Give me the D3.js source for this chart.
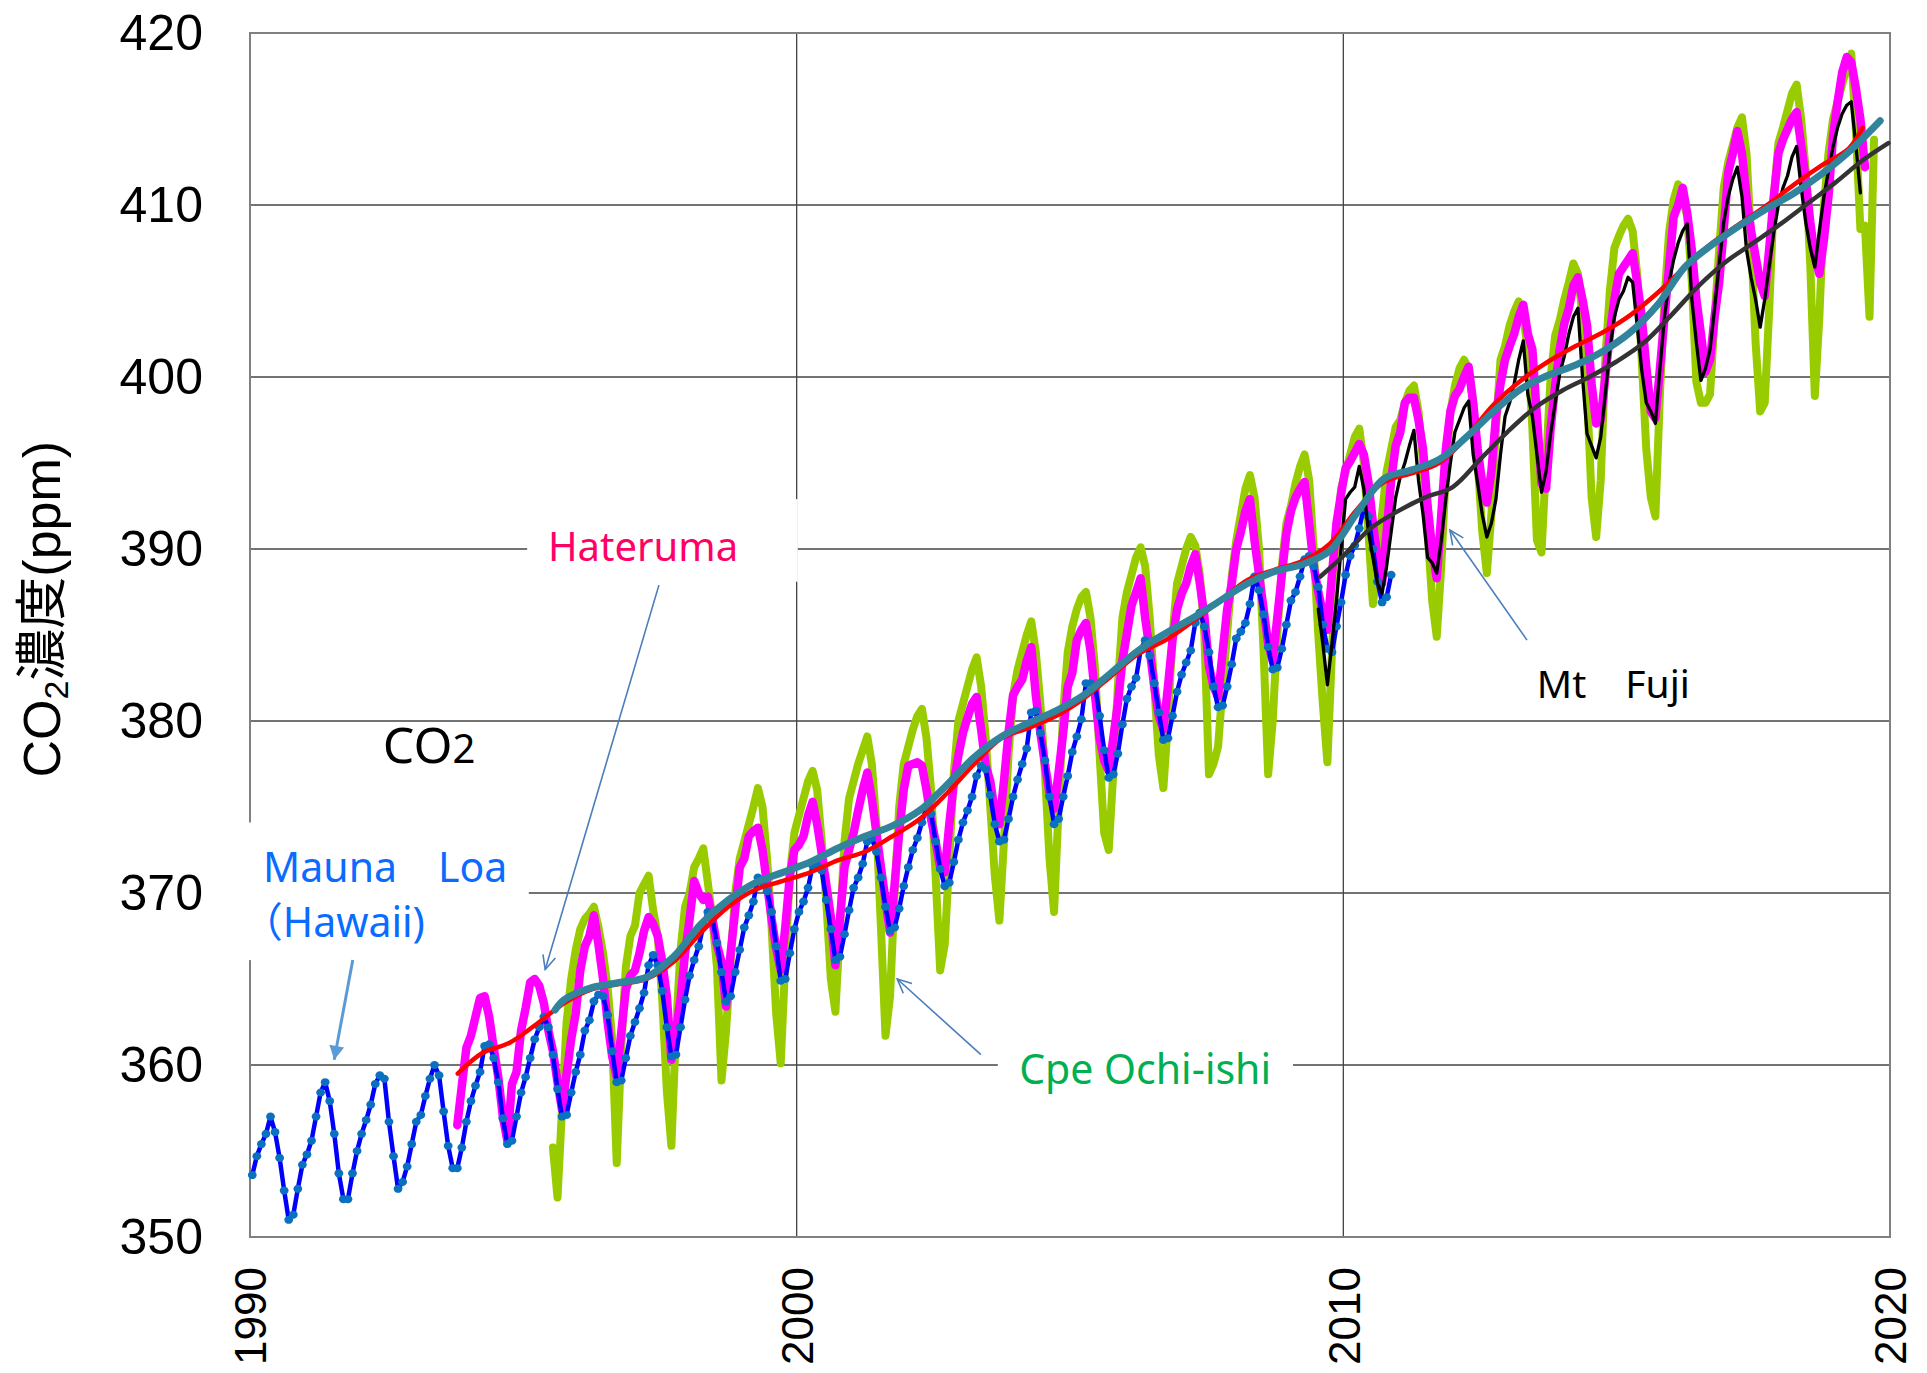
<!DOCTYPE html>
<html>
<head>
<meta charset="utf-8">
<script src="https://cdn.jsdelivr.net/npm/d3@7"></script>
<style>
  body { margin: 0; background: #fff; }
  svg { display: block; }
</style>
</head>
<body>
<div id="chart"></div>
<script>
// monthly CO2 (ppm), one row per year
var maunaLoaStart = 1990;          // Jan 1990
var maunaLoa = [
  353.6, 354.7, 355.4, 356.0, 357.0, 356.1, 354.6, 352.7, 351.0, 351.3, 352.8, 354.2,
  354.8, 355.6, 357.0, 358.4, 359.0, 357.9, 356.0, 353.7, 352.2, 352.2, 353.7, 355.0,
  356.0, 356.8, 357.7, 358.9, 359.4, 359.2, 356.7, 354.7, 352.8, 353.2, 354.1, 355.4,
  356.7, 357.1, 358.2, 359.2, 360.0, 359.4, 357.3, 355.3, 354.0, 354.0, 355.2, 356.7,
  357.9, 358.8, 359.6, 361.1, 361.2, 360.4, 359.0, 356.9, 355.4, 355.6, 357.0, 358.4,
  359.3, 360.4, 361.5, 362.2, 362.8, 362.2, 360.6, 358.6, 357.0, 357.1, 358.4, 359.6,
  360.6, 362.0, 362.6, 363.7, 364.1, 364.0, 362.9, 360.8, 359.0, 359.1, 360.4, 361.7,
  362.5, 363.3, 364.2, 365.8, 366.4, 365.8, 364.3, 362.2, 360.5, 360.6, 362.2, 363.8,
  365.2, 366.1, 366.9, 368.1, 368.9, 368.5, 367.1, 365.4, 363.7, 364.0, 365.4, 366.7,
  368.0, 368.7, 369.5, 370.9, 370.6, 370.1, 368.9, 366.9, 364.9, 365.0, 366.5, 367.9,
  368.9, 369.5, 370.3, 371.6, 371.6, 371.3, 369.6, 367.9, 366.1, 366.3, 367.6, 369.0,
  370.3, 370.9, 371.7, 373.0, 373.2, 372.4, 370.9, 369.2, 367.8, 368.0, 369.1, 370.4,
  371.5, 372.5, 373.2, 374.1, 375.0, 374.6, 373.0, 371.4, 370.4, 370.6, 371.8, 373.1,
  374.1, 374.8, 375.6, 376.8, 377.4, 377.2, 375.7, 374.0, 373.0, 373.1, 374.3, 375.6,
  376.6, 377.5, 378.4, 380.5, 380.6, 379.3, 377.7, 375.6, 374.0, 374.3, 375.6, 376.8,
  378.2, 379.1, 380.1, 382.2, 382.2, 382.1, 380.3, 378.3, 376.7, 376.9, 378.1, 379.8,
  381.3, 382.0, 382.5, 384.1, 384.7, 383.8, 382.2, 380.5, 378.9, 379.0, 380.3, 381.7,
  382.7, 383.4, 384.1, 385.7, 386.3, 385.5, 384.0, 382.0, 380.8, 380.9, 382.0, 383.3,
  384.8, 385.2, 385.7, 386.8, 388.4, 387.6, 386.2, 384.3, 383.0, 383.1, 384.2, 385.6,
  387.0, 387.5, 388.4, 389.4, 389.6, 389.0, 387.8, 385.6, 384.2, 384.0, 385.5, 386.9,
  388.5, 389.6, 390.2, 391.2, 392.4, 391.9, 390.0, 388.1, 386.9, 387.2, 388.5
];

var haterumaStart = 1993 + 9 / 12;  // Oct 1993
var hateruma = [
  356.5, 358.8, 361.0,
  361.7, 362.8, 363.9, 364.0, 362.8, 361.0, 359.3, 357.0, 355.6, 358.9, 359.6, 362.0,
  363.3, 364.8, 365.0, 364.6, 363.6, 362.0, 360.8, 359.0, 357.4, 359.5, 361.5, 363.0,
  365.5, 366.9, 367.5, 368.7, 367.0, 365.0, 362.5, 360.5, 359.3, 361.9, 364.4, 365.2,
  365.5, 366.5, 367.8, 368.6, 368.2, 367.5, 366.0, 364.0, 360.3, 362.0, 363.8, 366.5,
  368.5, 370.7, 370.0, 369.6, 369.8, 368.5, 367.0, 366.0, 363.4, 366.5, 369.0, 371.5,
  372.0, 373.3, 373.6, 373.8, 372.5, 370.5, 368.5, 366.8, 365.5, 368.0, 371.0, 372.5,
  372.8, 373.3, 374.5, 375.3, 374.0, 372.3, 370.5, 368.6, 365.8, 368.5, 371.5, 372.5,
  373.5, 374.8, 376.0, 377.0, 375.5, 373.5, 371.5, 369.6, 367.7, 370.5, 373.5, 376.0,
  377.4, 377.5, 377.6, 377.4, 376.0, 374.3, 373.0, 371.5, 371.2, 374.0, 376.4, 378.0,
  379.3, 380.2, 381.0, 381.4, 379.5, 377.4, 376.5, 374.7, 374.0, 376.5, 379.3, 381.5,
  382.0, 382.4, 383.5, 384.3, 381.5, 379.3, 377.5, 375.8, 374.9, 377.0, 379.3, 382.0,
  382.8, 384.7, 385.3, 385.7, 384.1, 381.5, 379.0, 377.7, 377.1, 379.0, 381.0, 383.5,
  385.1, 386.7, 387.5, 388.3, 386.0, 384.1, 382.0, 380.3, 379.5, 382.0, 384.7, 386.5,
  387.4, 388.0, 389.0, 389.7, 388.0, 386.1, 383.2, 382.0, 381.4, 384.0, 386.5, 388.0,
  390.0, 391.0, 392.2, 392.9, 390.5, 388.5, 386.5, 384.5, 383.5, 386.0, 388.5, 390.9,
  392.2, 393.0, 393.5, 393.9, 391.5, 389.0, 387.5, 386.3, 385.3, 388.5, 391.5, 393.2,
  394.7, 395.1, 395.6, 396.1, 395.5, 393.9, 391.5, 389.5, 388.0, 391.0, 394.0, 396.0,
  396.8, 398.5, 398.8, 398.8, 397.5, 395.8, 392.5, 390.0, 388.3, 392.0, 395.8, 398.0,
  398.9, 399.3, 400.0, 400.6, 398.5, 395.8, 393.8, 392.7, 394.5, 397.7, 399.6, 401.0,
  401.8, 402.5, 403.5, 404.2, 402.5, 401.6, 397.7, 393.8, 393.5, 397.0, 399.5, 401.6,
  403.1, 404.0, 405.3, 405.8, 404.5, 403.0, 399.6, 397.3, 397.5, 400.0, 402.5, 404.5,
  406.0, 406.4, 406.8, 407.2, 405.5, 403.5, 400.6, 398.0, 397.6, 400.5, 403.5, 406.4,
  409.3, 410.0, 411.0, 409.5, 407.4, 404.5, 402.5, 400.3, 401.0, 403.5, 405.5, 408.6,
  411.9, 413.0, 414.3, 413.0, 410.5, 408.5, 407.0, 405.5, 404.7, 407.5, 410.5, 413.0,
  413.8, 414.4, 415.0, 415.4, 413.5, 411.5, 409.0, 407.0, 406.0, 408.0, 410.5, 414.0,
  416.0, 417.7, 418.6, 418.3, 416.8, 415.0, 412.2
];

var ochiishiStart = 1995 + 6 / 12;  // Jul 1995
var ochiishi = [
  355.2, 352.3, 357.5, 362.5, 365.0, 366.7,
  367.9, 368.5, 368.8, 369.2, 368.0, 366.5, 364.5, 361.5, 354.3, 361.0, 365.7, 367.5,
  368.1, 370.0, 370.5, 371.0, 369.0, 367.5, 363.8, 358.5, 355.3, 362.0, 366.7, 369.2,
  370.0, 371.5, 372.0, 372.6, 370.6, 368.5, 365.7, 359.1, 362.0, 366.0, 370.0, 372.0,
  373.0, 374.0, 375.0, 376.1, 375.0, 372.0, 368.0, 363.0, 360.1, 366.0, 371.0, 373.5,
  374.5, 375.5, 376.5, 377.1, 376.0, 373.0, 369.5, 365.0, 363.1, 368.0, 373.0, 375.5,
  376.5, 377.5, 378.3, 379.1, 377.5, 374.0, 368.0, 361.7, 364.0, 370.0, 375.0, 377.5,
  378.5, 379.5, 380.3, 380.7, 379.0, 376.0, 371.0, 365.5, 367.0, 372.0, 377.0, 380.0,
  381.0, 382.0, 383.0, 383.7, 382.0, 379.0, 375.0, 371.0, 368.4, 373.0, 378.0, 381.5,
  383.0, 384.0, 385.0, 385.8, 384.0, 381.0, 377.0, 372.0, 368.9, 375.0, 380.5, 384.0,
  385.5, 386.5, 387.2, 387.5, 386.0, 383.0, 378.0, 373.5, 372.5, 377.0, 382.0, 386.0,
  387.5, 388.5, 389.5, 390.1, 389.0, 386.0, 382.0, 378.0, 376.1, 380.0, 385.0, 388.0,
  389.0, 390.0, 390.7, 390.2, 388.5, 385.0, 376.9, 377.5, 378.5, 382.0, 385.1, 388.4,
  390.5, 392.0, 393.5, 394.3, 393.0, 390.0, 384.0, 376.9, 380.0, 385.0, 389.0, 391.5,
  392.5, 393.8, 394.8, 395.5, 394.0, 390.0, 385.0, 381.0, 377.6, 384.0, 390.0, 393.5,
  394.5, 395.5, 396.5, 397.0, 395.0, 391.0, 386.8, 389.0, 392.0, 394.5, 395.8, 397.1,
  397.5, 398.5, 399.2, 399.5, 398.0, 395.0, 391.0, 387.0, 384.9, 389.0, 394.5, 398.0,
  399.5, 400.5, 401.0, 400.5, 398.5, 395.0, 391.0, 388.6, 392.0, 397.0, 401.0, 401.8,
  403.0, 403.8, 404.4, 403.5, 401.6, 397.0, 390.5, 389.8, 395.0, 400.0, 402.4, 403.3,
  404.5, 405.5, 406.6, 406.0, 403.5, 399.0, 393.0, 390.7, 394.0, 401.0, 405.0, 407.5,
  408.2, 408.8, 409.2, 408.5, 406.0, 401.0, 395.8, 393.0, 391.9, 399.0, 404.5, 408.4,
  410.3, 411.2, 410.5, 409.3, 405.5, 399.7, 398.5, 398.5, 399.0, 403.5, 407.4, 411.0,
  412.5, 413.5, 414.5, 415.1, 413.0, 408.0, 402.0, 398.0, 398.5, 404.0, 410.5, 413.6,
  414.5, 415.5, 416.5, 417.0, 415.0, 412.0, 406.5, 398.9, 403.5, 410.0, 413.0, 415.0,
  416.0, 417.0, 418.0, 418.8, 414.4, 408.6, 408.8, 403.5, 413.8
];

var fujiStart = 2009 + 6 / 12;      // Jul 2009
var fuji = [
  386.5, 384.5, 382.1, 384.5, 387.0, 390.0,
  392.9, 393.3, 393.6, 394.8, 393.5, 391.0, 389.5, 388.0, 387.4, 389.0, 391.0, 393.0,
  394.2, 395.0, 396.0, 396.9, 394.0, 392.0, 389.5, 389.2, 388.6, 390.5, 392.9, 395.0,
  396.8, 397.5, 398.2, 398.6, 395.5, 393.8, 392.0, 390.7, 391.5, 392.9, 395.5, 397.7,
  398.5, 399.6, 401.0, 402.1, 399.0, 397.7, 395.5, 393.3, 394.5, 396.7, 398.5, 400.2,
  401.2, 402.5, 403.5, 404.0, 400.0, 396.7, 396.0, 395.3, 396.5, 399.0, 401.6, 403.5,
  404.5, 405.0, 405.8, 405.5, 403.0, 400.4, 398.5, 398.0, 397.3, 400.5, 403.5, 405.5,
  406.8, 407.8, 408.5, 408.9, 404.5, 402.0, 399.8, 400.5, 401.6, 404.0, 406.5, 409.0,
  410.5, 411.5, 412.2, 410.5, 407.4, 405.8, 404.5, 402.9, 404.5, 406.5, 408.4, 410.0,
  411.0, 411.7, 412.8, 413.4, 411.0, 409.0, 407.5, 406.4, 408.5, 410.5, 412.0, 413.4,
  414.5, 415.3, 415.8, 416.0, 413.5, 410.7
];

// smoothed trend curves [year, ppm]
var haterumaTrend = [
  [1993.8, 359.5], [1994.25, 360.7], [1994.75, 361.3], [1995.25, 362.4], [1995.75, 363.6],
  [1996.25, 364.4], [1996.75, 364.7], [1997.25, 365.0], [1997.75, 366.0], [1998.25, 367.7],
  [1998.75, 369.2], [1999.25, 370.2], [1999.75, 370.7], [2000.25, 371.2], [2000.75, 371.9],
  [2001.25, 372.4], [2001.75, 373.3], [2002.25, 374.3], [2002.75, 375.8], [2003.25, 377.5],
  [2003.75, 379.0], [2004.25, 379.6], [2004.75, 380.3], [2005.25, 381.3], [2005.75, 382.6],
  [2006.25, 383.9], [2006.75, 384.7], [2007.25, 385.8], [2007.75, 387.0], [2008.25, 388.2],
  [2008.75, 388.8], [2009.25, 389.3], [2009.75, 390.3], [2010.25, 392.3], [2010.75, 393.9],
  [2011.25, 394.4], [2011.75, 395.0], [2012.25, 396.5], [2012.75, 398.4], [2013.25, 399.8],
  [2013.75, 400.9], [2014.25, 401.8], [2014.75, 402.6], [2015.25, 403.6], [2015.75, 404.9],
  [2016.25, 406.4], [2016.75, 407.8], [2017.25, 408.9], [2017.75, 410.0], [2018.25, 411.2],
  [2018.75, 412.3], [2019.25, 413.3], [2019.5, 414.5]
];
var ochiishiTrend = [
  [1995.58, 363.2], [1995.75, 363.8], [1996.25, 364.5], [1996.75, 364.8], [1997.25, 365.1],
  [1997.75, 366.3], [1998.25, 368.2], [1998.75, 369.6], [1999.25, 370.6], [1999.75, 371.2],
  [2000.25, 371.8], [2000.75, 372.6], [2001.25, 373.3], [2001.75, 373.9], [2002.25, 374.8],
  [2002.75, 376.3], [2003.25, 377.9], [2003.75, 379.1], [2004.25, 379.9], [2004.75, 380.6],
  [2005.25, 381.5], [2005.75, 382.8], [2006.25, 384.1], [2006.75, 385.1], [2007.25, 386.0],
  [2007.75, 387.0], [2008.25, 388.0], [2008.75, 388.7], [2009.25, 389.1], [2009.75, 389.9],
  [2010.25, 392.1], [2010.75, 394.1], [2011.25, 394.6], [2011.75, 395.2], [2012.25, 396.5],
  [2012.75, 398.0], [2013.25, 399.3], [2013.75, 400.1], [2014.25, 400.7], [2014.75, 401.5],
  [2015.25, 402.6], [2015.75, 404.2], [2016.25, 406.4], [2016.75, 407.7], [2017.25, 408.8],
  [2017.75, 409.8], [2018.25, 410.7], [2018.75, 411.8], [2019.25, 413.1], [2019.82, 414.9]
];
var fujiTrend = [
  [2009.58, 388.4], [2010.0, 389.6], [2010.5, 391.2], [2011.0, 392.2], [2011.5, 393.0],
  [2012.0, 393.6], [2012.5, 395.2], [2013.0, 396.8], [2013.5, 398.2], [2014.0, 399.2],
  [2014.5, 400.0], [2015.0, 400.9], [2015.5, 402.0], [2016.0, 403.6], [2016.5, 405.3],
  [2017.0, 406.7], [2017.5, 407.8], [2018.0, 408.9], [2018.5, 410.1], [2019.0, 411.3],
  [2019.5, 412.6], [2019.97, 413.6]
];

var yearTicks = [1990, 2000, 2010, 2020];
var ppmTicks = [350, 360, 370, 380, 390, 400, 410, 420];

var width = 1927, height = 1373;
var margin = {top: 33, right: 37, bottom: 136, left: 250};

var x = d3.scaleLinear().domain([1990, 2020]).range([margin.left, width - margin.right]);
var y = d3.scaleLinear().domain([350, 420]).range([height - margin.bottom, margin.top]);

var svg = d3.select("#chart").append("svg")
    .attr("width", width)
    .attr("height", height);

function monthly(start, vals) {
    return vals.map(function(v, i) { return {t: start + (i + 0.5) / 12, v: v}; });
}
function pairs(arr) {
    return arr.map(function(d) { return {t: d[0], v: d[1]}; });
}

// grid
svg.append("g").selectAll("line")
    .data(ppmTicks.filter(function(d) { return d > 350 && d < 420; }))
    .enter().append("line")
    .attr("x1", x(1990)).attr("x2", x(2020))
    .attr("y1", function(d) { return y(d); }).attr("y2", function(d) { return y(d); })
    .attr("stroke", "#444").attr("stroke-width", 1.3);
svg.append("g").selectAll("line")
    .data(yearTicks.filter(function(d) { return d > 1990 && d < 2020; }))
    .enter().append("line")
    .attr("y1", y(350)).attr("y2", y(420))
    .attr("x1", function(d) { return x(d); }).attr("x2", function(d) { return x(d); })
    .attr("stroke", "#444").attr("stroke-width", 1.3);
svg.append("rect")
    .attr("x", x(1990)).attr("y", y(420))
    .attr("width", x(2020) - x(1990)).attr("height", y(350) - y(420))
    .attr("fill", "none").attr("stroke", "#808080").attr("stroke-width", 2);

// axis labels
var yAxis = svg.append("g")
    .attr("transform", "translate(" + x(1990) + ",0)")
    .call(d3.axisLeft(y).tickValues(ppmTicks).tickSize(0).tickPadding(47));
yAxis.select(".domain").remove();
yAxis.selectAll("text")
    .style("font-family", "'Liberation Sans', Arial, sans-serif")
    .style("font-size", "50px").attr("fill", "#000");

var xAxis = svg.append("g")
    .attr("transform", "translate(0," + y(350) + ")")
    .call(d3.axisBottom(x).tickValues(yearTicks).tickFormat(d3.format("d")).tickSize(0));
xAxis.select(".domain").remove();
xAxis.selectAll("text")
    .attr("transform", "rotate(-90)")
    .attr("x", -30).attr("y", 0).attr("dy", "0.36em")
    .style("text-anchor", "end")
    .style("font-family", "'Liberation Sans', Arial, sans-serif")
    .style("font-size", "44px").attr("fill", "#000");

// y title
var yTitle = svg.append("text")
    .attr("transform", "translate(60," + y(386.5) + ") rotate(-90)")
    .attr("text-anchor", "middle")
    .style("font-family", "'Liberation Sans', 'Noto Sans CJK JP', sans-serif")
    .style("font-size", "52px").attr("fill", "#000");
yTitle.append("tspan").text("CO");
yTitle.append("tspan").attr("dy", 8).style("font-size", "34px").text("2");
yTitle.append("tspan").attr("dy", -8).text("濃度(ppm)");

// white boxes behind the labels
var boxes = [
    {x0: 1995.07, x1: 2000.02, y0: 392.9, y1: 388.1},
    {x0: 1989.9, x1: 1995.1, y0: 374.1, y1: 366.1},
    {x0: 2003.68, x1: 2009.08, y0: 361.8, y1: 358.0}
];
svg.append("g").selectAll("rect").data(boxes).enter().append("rect")
    .attr("x", function(d) { return x(d.x0); })
    .attr("y", function(d) { return y(d.y0); })
    .attr("width", function(d) { return x(d.x1) - x(d.x0); })
    .attr("height", function(d) { return y(d.y1) - y(d.y0); })
    .attr("fill", "#fff");

// series
var line = d3.line()
    .x(function(d) { return x(d.t); })
    .y(function(d) { return y(d.v); });
var smooth = d3.line()
    .curve(d3.curveCatmullRom)
    .x(function(d) { return x(d.t); })
    .y(function(d) { return y(d.v); });

function drawPath(data, gen, color, w) {
    svg.append("path")
        .datum(data)
        .attr("d", gen)
        .attr("fill", "none")
        .attr("stroke", color)
        .attr("stroke-width", w)
        .attr("stroke-linejoin", "round")
        .attr("stroke-linecap", "round");
}

var mlo = monthly(maunaLoaStart, maunaLoa);
drawPath(monthly(ochiishiStart, ochiishi), line, "#99cc00", 8);
drawPath(monthly(haterumaStart, hateruma), line, "#ff00ff", 8.5);
drawPath(mlo, line, "#0000ff", 4.5);
svg.append("g").selectAll("ellipse")
    .data(mlo)
    .enter().append("ellipse")
    .attr("cx", function(d) { return x(d.t); })
    .attr("cy", function(d) { return y(d.v); })
    .attr("rx", 4.4).attr("ry", 4)
    .attr("fill", "#0a70c0");
drawPath(monthly(fujiStart, fuji), line, "#000", 3.3);
drawPath(pairs(haterumaTrend), smooth, "#ff0000", 4.5);
drawPath(pairs(ochiishiTrend), smooth, "#31849b", 7);
drawPath(pairs(fujiTrend), smooth, "#333", 4.5);

// arrows
var defs = svg.append("defs");
defs.append("marker")
    .attr("id", "openhead")
    .attr("viewBox", "-16 -8 18 16")
    .attr("markerWidth", 18).attr("markerHeight", 16)
    .attr("markerUnits", "userSpaceOnUse")
    .attr("refX", 0).attr("refY", 0)
    .attr("orient", "auto")
    .append("path")
    .attr("d", "M-14,-6.5 L0,0 L-14,6.5")
    .attr("fill", "none").attr("stroke", "#4a7ebb").attr("stroke-width", 1.6);
defs.append("marker")
    .attr("id", "solidhead")
    .attr("viewBox", "-16 -9 18 18")
    .attr("markerWidth", 18).attr("markerHeight", 18)
    .attr("markerUnits", "userSpaceOnUse")
    .attr("refX", 0).attr("refY", 0)
    .attr("orient", "auto")
    .append("path")
    .attr("d", "M-14,-7.5 L0,0 L-14,7.5 Z")
    .attr("fill", "#5b9bd5");

var arrows = [
    {from: [1997.48, 387.9], to: [1995.4, 365.55], head: "openhead", color: "#4a7ebb", w: 1.6},
    {from: [2003.37, 360.6], to: [2001.84, 365.0], head: "openhead", color: "#4a7ebb", w: 1.6},
    {from: [2013.36, 384.7], to: [2011.95, 391.1], head: "openhead", color: "#4a7ebb", w: 1.6},
    {from: [1991.88, 366.1], to: [1991.54, 360.3], head: "solidhead", color: "#5b9bd5", w: 3}
];
svg.append("g").selectAll("line").data(arrows).enter().append("line")
    .attr("x1", function(d) { return x(d.from[0]); })
    .attr("y1", function(d) { return y(d.from[1]); })
    .attr("x2", function(d) { return x(d.to[0]); })
    .attr("y2", function(d) { return y(d.to[1]); })
    .attr("stroke", function(d) { return d.color; })
    .attr("stroke-width", function(d) { return d.w; })
    .attr("marker-end", function(d) { return "url(#" + d.head + ")"; });

// labels
var labelFont = "'Noto Sans', 'Noto Sans CJK JP', sans-serif";
var labels = [
    {text: "Hateruma", t: 1995.45, v: 389.3, color: "#ff0066", size: 40},
    {text: "Mauna\u3000Loa", t: 1990.24, v: 370.66, color: "#0a6cff", size: 41},
    {text: "\uff08Hawaii)", t: 1989.85, v: 367.46, color: "#0a6cff", size: 41},
    {text: "Cpe Ochi-ishi", t: 2004.07, v: 358.9, color: "#00b050", size: 41},
    {text: "Mt\u3000Fuji", t: 2013.54, v: 381.36, color: "#000", size: 39}
];
svg.append("g").selectAll("text").data(labels).enter().append("text")
    .attr("x", function(d) { return x(d.t); })
    .attr("y", function(d) { return y(d.v); })
    .attr("fill", function(d) { return d.color; })
    .style("font-family", labelFont)
    .style("font-size", function(d) { return d.size + "px"; })
    .text(function(d) { return d.text; });

var co2 = svg.append("text")
    .attr("x", x(1992.43)).attr("y", y(377.58))
    .style("font-family", labelFont)
    .style("font-size", "50px").attr("fill", "#000");
co2.append("tspan").text("CO");
co2.append("tspan").style("font-size", "40px").text("2");
</script>
</body>
</html>
